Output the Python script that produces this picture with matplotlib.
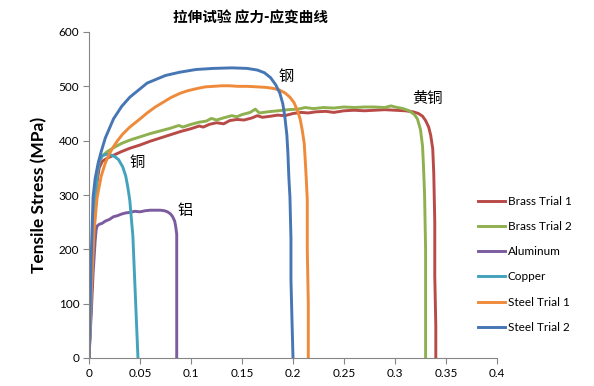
import matplotlib
matplotlib.use("Agg")
import matplotlib.pyplot as plt

plt.rcParams['font.family'] = ['Lato', 'Noto Sans CJK SC', 'DejaVu Sans']

# strain / stress (MPa)
brass1_strain = [0, 0.002, 0.004, 0.006, 0.008, 0.010, 0.013, 0.018, 0.025, 0.032, 0.040, 0.050,
                 0.060, 0.070, 0.080, 0.090, 0.100, 0.108, 0.112, 0.118, 0.125, 0.132, 0.138,
                 0.145, 0.152, 0.160, 0.165, 0.170, 0.178, 0.185, 0.192, 0.200, 0.208, 0.215,
                 0.222, 0.232, 0.240, 0.250, 0.260, 0.270, 0.280, 0.290, 0.300, 0.310, 0.318,
                 0.323, 0.327, 0.330, 0.333, 0.335, 0.337, 0.338, 0.339, 0.339, 0.340, 0.340]
brass1_stress = [0, 95, 190, 270, 325, 350, 362, 368, 374, 380, 386, 392,
                 399, 405, 411, 417, 422, 427, 425, 430, 433, 431, 437,
                 439, 438, 442, 446, 443, 445, 447, 446, 450, 452, 451,
                 453, 454, 452, 455, 456, 455, 456, 457, 456, 455, 453,
                 450, 445, 437, 425, 410, 385, 340, 250, 150, 60, 0]

brass2_strain = [0, 0.002, 0.004, 0.006, 0.008, 0.010, 0.013, 0.018, 0.025, 0.032, 0.040, 0.050,
                 0.060, 0.070, 0.080, 0.088, 0.092, 0.100, 0.108, 0.115, 0.120, 0.125, 0.132,
                 0.140, 0.145, 0.150, 0.158, 0.163, 0.167, 0.175, 0.185, 0.195, 0.205, 0.212,
                 0.220, 0.230, 0.240, 0.250, 0.260, 0.270, 0.280, 0.290, 0.296, 0.300, 0.308,
                 0.314, 0.319, 0.322, 0.325, 0.327, 0.328, 0.329, 0.330, 0.330, 0.330]
brass2_stress = [0, 100, 200, 285, 340, 362, 372, 380, 388, 395, 401, 407,
                 413, 418, 423, 428, 425, 430, 434, 436, 441, 438, 442,
                 446, 444, 448, 452, 458, 451, 453, 455, 457, 458, 461,
                 459, 461, 460, 462, 461, 462, 462, 461, 464, 462, 459,
                 455, 448, 440, 420, 390, 350, 300, 200, 100, 0]

alu_strain = [0, 0.002, 0.004, 0.006, 0.007, 0.008, 0.010, 0.013, 0.016, 0.020, 0.024, 0.028,
              0.032, 0.036, 0.040, 0.045, 0.050, 0.055, 0.060, 0.065, 0.070, 0.074, 0.077,
              0.080, 0.082, 0.084, 0.085, 0.086, 0.086, 0.086, 0.086]
alu_stress = [0, 75, 155, 215, 236, 243, 246, 248, 252, 255, 260, 262,
              265, 267, 268, 270, 269, 271, 272, 272, 272, 271, 269,
              265, 260, 252, 242, 228, 150, 50, 0]

copper_strain = [0, 0.002, 0.004, 0.006, 0.008, 0.010, 0.013, 0.017, 0.021, 0.025, 0.029, 0.033,
                 0.036, 0.038, 0.040, 0.041, 0.043, 0.044, 0.045, 0.046, 0.047, 0.048]
copper_stress = [0, 110, 210, 290, 340, 362, 372, 375, 374, 371, 365, 352,
                 335, 315, 290, 268, 225, 180, 135, 90, 45, 0]

steel1_strain = [0, 0.002, 0.005, 0.008, 0.012, 0.016, 0.020, 0.024, 0.028, 0.033, 0.040, 0.050,
                 0.057, 0.065, 0.073, 0.080, 0.089, 0.097, 0.106, 0.114, 0.122, 0.130, 0.138,
                 0.146, 0.155, 0.165, 0.174, 0.181, 0.187, 0.192, 0.197, 0.201, 0.204, 0.207,
                 0.209, 0.211, 0.212, 0.213, 0.214, 0.214, 0.215, 0.215]
steel1_stress = [0, 112, 236, 296, 335, 359, 376, 389, 400, 412, 425, 440,
                 451, 462, 471, 479, 487, 492, 496, 499, 500, 501, 501,
                 500, 500, 499, 498, 496, 493, 488, 480, 470, 457, 440,
                 420, 395, 364, 330, 291, 200, 100, 0]

steel2_strain = [0, 0.002, 0.004, 0.006, 0.009, 0.012, 0.016, 0.024, 0.032, 0.040, 0.057, 0.075,
                 0.089, 0.105, 0.122, 0.140, 0.155, 0.165, 0.172, 0.178, 0.183, 0.187, 0.190,
                 0.192, 0.194, 0.195, 0.196, 0.197, 0.198, 0.198, 0.199, 0.200]
steel2_stress = [0, 175, 296, 330, 359, 380, 405, 440, 463, 480, 506, 520,
                 526, 531, 533, 534, 533, 530, 525, 516, 503, 488, 468,
                 444, 410, 377, 330, 296, 220, 144, 70, 0]

series = [
    ('Brass Trial 1', brass1_strain, brass1_stress, '#B84A47'),
    ('Brass Trial 2', brass2_strain, brass2_stress, '#8FB04F'),
    ('Aluminum', alu_strain, alu_stress, '#7C5C9E'),
    ('Copper', copper_strain, copper_stress, '#44A3BC'),
    ('Steel Trial 1', steel1_strain, steel1_stress, '#EE8A3A'),
    ('Steel Trial 2', steel2_strain, steel2_stress, '#4676B4'),
]

# curve annotations (Chinese material names)
notes = [('钢', 0.193, 519), ('黄铜', 0.332, 478), ('铜', 0.047, 359), ('铝', 0.094, 272)]

fig = plt.figure(figsize=(5.94, 3.86), dpi=100)
ax = fig.add_axes([89 / 594, 1 - 358 / 386, 408 / 594, 326 / 386])

for name, x, y, c in series:
    ax.plot(x, y, color=c, lw=2.1, label=name, solid_joinstyle='round')

for txt, x, y in notes:
    ax.text(x, y, txt, fontsize=11, ha='center', va='center', family=['Noto Sans CJK SC'])

ax.set_xlim(0, 0.4)
ax.set_ylim(0, 600)
ax.set_xticks([0, 0.05, 0.1, 0.15, 0.2, 0.25, 0.3, 0.35, 0.4])
ax.set_xticklabels(['0', '0.05', '0.1', '0.15', '0.2', '0.25', '0.3', '0.35', '0.4'])
ax.set_yticks(range(0, 601, 100))
ax.tick_params(labelsize=8.5, color='#868686', length=4, width=0.8, pad=3)
for s in ['top', 'right']:
    ax.spines[s].set_visible(False)
for s in ['left', 'bottom']:
    ax.spines[s].set_color('#868686')
    ax.spines[s].set_linewidth(0.8)

ax.set_ylabel('Tensile Stress (MPa)', fontsize=12.5, fontweight='bold', labelpad=8)
fig.text(250 / 594, 1 - 17 / 386, '拉伸试验 应力-应变曲线', fontsize=10.5, fontweight='bold',
         ha='center', va='center', family=['Noto Sans CJK SC'])

fig.legend(loc='upper left', bbox_to_anchor=(478 / 594, 1 - 196 / 386), frameon=False,
           fontsize=8.5, handlelength=2.3, handletextpad=0.2, labelspacing=1.2,
           borderpad=0, borderaxespad=0)

fig.savefig('out.png', dpi=100)
